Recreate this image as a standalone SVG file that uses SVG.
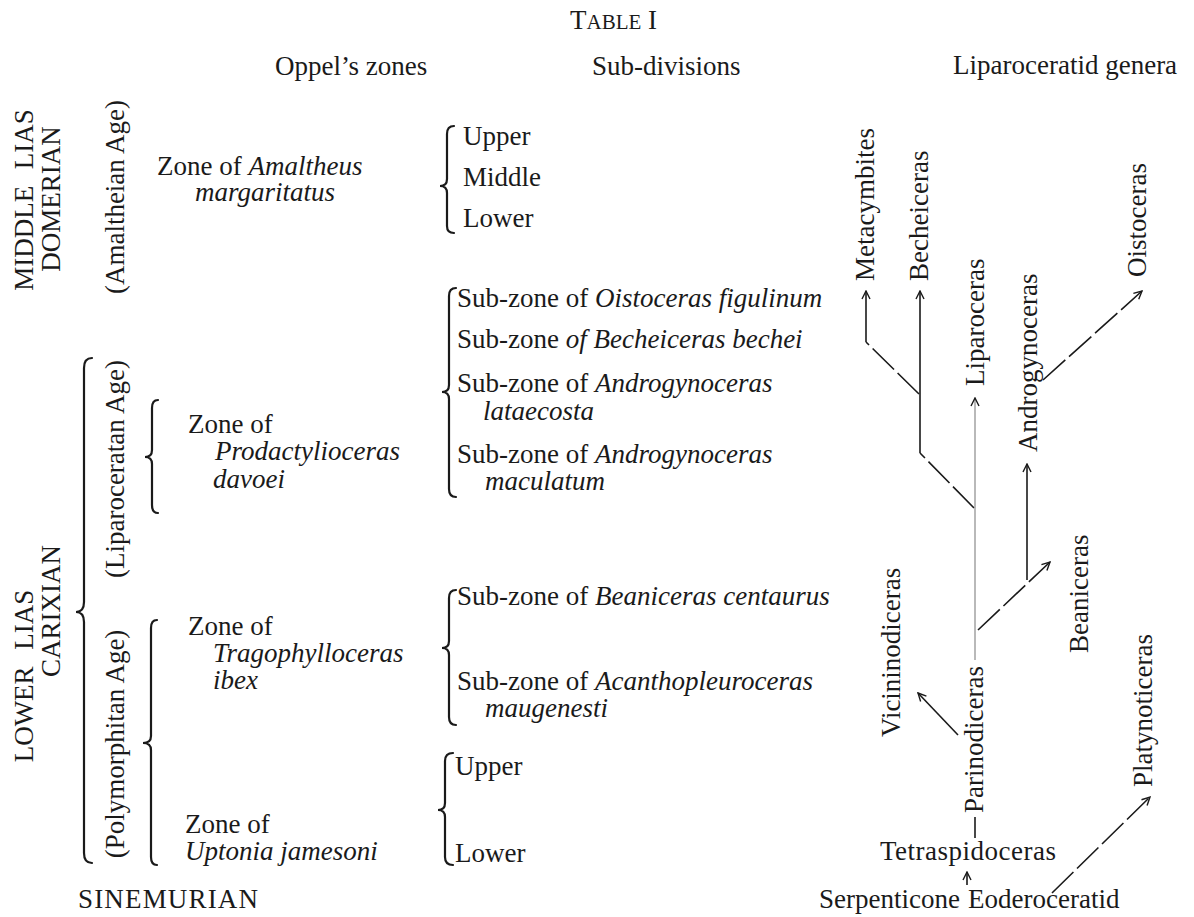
<svg xmlns="http://www.w3.org/2000/svg" width="1194" height="917" viewBox="0 0 1194 917">
<defs>
<style>
text{font-family:"Liberation Serif","Times New Roman",serif;font-size:27px;fill:#1a1a1a}
.i{font-style:italic}
.sc{font-size:21px}
.brace{fill:none;stroke:#1a1a1a;stroke-width:2.2;stroke-linecap:round}
.ln{fill:none;stroke:#1a1a1a;stroke-width:1.6}
.dash{stroke-dasharray:30 5}
.thin{fill:none;stroke:#8a8a8a;stroke-width:1.2}
</style>
<marker id="ah" viewBox="0 0 10 10" refX="9" refY="5" markerWidth="10" markerHeight="10" markerUnits="userSpaceOnUse" orient="auto">
<path d="M1,1 L9,5 L1,9" fill="none" stroke="#1a1a1a" stroke-width="1.4"/>
</marker>
</defs>
<rect width="1194" height="917" fill="#ffffff"/>

<g id="title"><text x="570" y="29">T<tspan class="sc">ABLE</tspan> I</text></g>
<g id="headers">
<text x="275" y="75">Oppel’s zones</text>
<text x="592" y="75">Sub-divisions</text>
<text x="953" y="74">Liparoceratid genera</text>
</g>

<g id="stages">
<text transform="translate(33,200) rotate(-90)" text-anchor="middle" word-spacing="10">MIDDLE LIAS</text>
<text transform="translate(60,199) rotate(-90)" text-anchor="middle">DOMERIAN</text>
<text transform="translate(33,676) rotate(-90)" text-anchor="middle" word-spacing="10">LOWER LIAS</text>
<text transform="translate(60,611) rotate(-90)" text-anchor="middle">CARIXIAN</text>
<text x="78" y="908" textLength="180" lengthAdjust="spacing">SINEMURIAN</text>
</g>

<g id="ages">
<text transform="translate(124,197) rotate(-90)" text-anchor="middle">(Amaltheian Age)</text>
<text transform="translate(124,469) rotate(-90)" text-anchor="middle">(Liparoceratan Age)</text>
<text transform="translate(124,744) rotate(-90)" text-anchor="middle">(Polymorphitan Age)</text>
<path class="brace" d="M92,358 Q84,358 84,368 L84,602 Q84,612 76,612 Q84,612 84,622 L84,853 Q84,863 92,863"/>
</g>

<g id="zones">
<text x="157" y="175">Zone of <tspan class="i">Amaltheus</tspan></text>
<text x="195" y="201" class="i">margaritatus</text>
<path class="brace" d="M158,400 Q152,400 152,408 L152,450 Q152,457 145,457 Q152,457 152,464 L152,505 Q152,513 158,513"/>
<text x="188" y="433">Zone of</text>
<text x="215" y="460" class="i">Prodactylioceras</text>
<text x="213" y="488" class="i">davoei</text>
<path class="brace" d="M157,620 Q151,620 151,628 L151,736 Q151,743 143,743 Q151,743 151,750 L151,857 Q151,865 157,865"/>
<text x="188" y="635">Zone of</text>
<text x="213" y="662" class="i">Tragophylloceras</text>
<text x="213" y="689" class="i">ibex</text>
<text x="185" y="833">Zone of</text>
<text x="185" y="860" class="i">Uptonia jamesoni</text>
</g>

<g id="subdivisions">
<path class="brace" d="M454,126 Q447,126 447,134 L447,179 Q447,186 440,186 Q447,186 447,193 L447,226 Q447,233 454,233"/>
<text x="463" y="145">Upper</text>
<text x="463" y="186">Middle</text>
<text x="463" y="227">Lower</text>
<path class="brace" d="M456,288 Q449,288 449,296 L449,385 Q449,392 442,392 Q449,392 449,399 L449,489 Q449,497 456,497"/>
<text x="457" y="307">Sub-zone of <tspan class="i">Oistoceras figulinum</tspan></text>
<text x="457" y="348">Sub-zone <tspan class="i">of Becheiceras bechei</tspan></text>
<text x="457" y="392">Sub-zone of <tspan class="i">Androgynoceras</tspan></text>
<text x="483" y="420" class="i">lataecosta</text>
<text x="457" y="463">Sub-zone of <tspan class="i">Androgynoceras</tspan></text>
<text x="485" y="490" class="i">maculatum</text>
<path class="brace" d="M456,590 Q449,590 449,598 L449,641 Q449,648 442,648 Q449,648 449,655 L449,717 Q449,725 456,725"/>
<text x="457" y="605">Sub-zone of <tspan class="i">Beaniceras centaurus</tspan></text>
<text x="457" y="690">Sub-zone of <tspan class="i">Acanthopleuroceras</tspan></text>
<text x="485" y="717" class="i">maugenesti</text>
<path class="brace" d="M453,753 Q445,753 445,761 L445,803 Q445,810 438,810 Q445,810 445,817 L445,857 Q445,865 453,865"/>
<text x="455" y="775">Upper</text>
<text x="455" y="862">Lower</text>
</g>

<g id="genera">
<text id="metacymbites" transform="translate(874,281) rotate(-90)">Metacymbites</text>
<text id="becheiceras" transform="translate(928,281) rotate(-90)">Becheiceras</text>
<text id="liparoceras" transform="translate(984,386) rotate(-90)">Liparoceras</text>
<text id="androgynoceras" transform="translate(1037,452) rotate(-90)">Androgynoceras</text>
<text id="oistoceras" transform="translate(1146,277) rotate(-90)">Oistoceras</text>
<text id="vicininodiceras" transform="translate(900,737) rotate(-90)">Vicininodiceras</text>
<text id="parinodiceras" transform="translate(983,813) rotate(-90)">Parinodiceras</text>
<text id="beaniceras" transform="translate(1088,653) rotate(-90)">Beaniceras</text>
<text id="platynoticeras" transform="translate(1152,787) rotate(-90)">Platynoticeras</text>
<text id="tetraspidoceras" x="880" y="860" textLength="176" lengthAdjust="spacing">Tetraspidoceras</text>
<text id="serpenticone" x="960" y="908" text-anchor="end">Serpenticone</text>
<text id="eoderoceratid" x="968" y="908">Eoderoceratid</text>
</g>

<g id="connectors">
<path class="ln" d="M866,342 L866,291" marker-end="url(#ah)"/>
<path class="ln dash" d="M919,394 L866,342"/>
<path class="ln" d="M920,453 L920,291" marker-end="url(#ah)"/>
<path class="ln dash" d="M974,508 L920,453"/>
<path class="thin" d="M975,660 L975,398" marker-end="url(#ah)"/>
<path class="ln" d="M1027,580 L1027,464" marker-end="url(#ah)"/>
<path class="ln dash" d="M1043,380 L1142,291" marker-end="url(#ah)"/>
<path class="ln dash" d="M978,630 L1050,562" marker-end="url(#ah)"/>
<path class="ln" d="M958,735 L918,693" marker-end="url(#ah)"/>
<path class="ln" d="M975,817 L975,838"/>
<path class="ln" d="M967,885 L967,872" marker-end="url(#ah)"/>
<path class="ln dash" d="M1052,893 L1150,797" marker-end="url(#ah)"/>
</g>
</svg>
